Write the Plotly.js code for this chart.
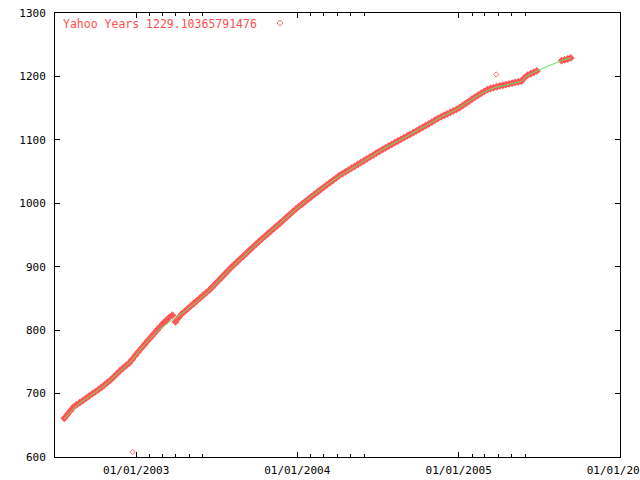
<!DOCTYPE html>
<html>
<head>
<meta charset="utf-8">
<script src="https://cdn.plot.ly/plotly-3.0.1.min.js"></script>
<style>html,body{margin:0;padding:0;background:#fff}#chart{width:640px;height:480px}</style>
</head>
<body>
<div id="chart"></div>
<script>
// Red point series (Yahoo Years)
const yahooDates = [
  "2002-07-22","2002-07-29","2002-08-05","2002-08-12","2002-08-19","2002-08-26","2002-09-02","2002-09-09","2002-09-16","2002-09-23","2002-09-30",
  "2002-10-07","2002-10-14","2002-10-21","2002-10-28","2002-11-04","2002-11-11","2002-11-18","2002-11-25","2002-12-02","2002-12-09","2002-12-16","2002-12-23","2002-12-30",
  "2003-01-06","2003-01-13","2003-01-20","2003-01-27","2003-02-03","2003-02-10","2003-02-17","2003-02-24","2003-03-03","2003-03-10","2003-03-17","2003-03-24","2003-03-31",
  "2003-04-07","2003-04-14","2003-04-21","2003-04-28","2003-05-05","2003-05-12","2003-05-19","2003-05-26","2003-06-02","2003-06-09","2003-06-16","2003-06-23","2003-06-30",
  "2003-07-07","2003-07-14","2003-07-21","2003-07-28","2003-08-04","2003-08-11","2003-08-18","2003-08-25","2003-09-01","2003-09-08","2003-09-15","2003-09-22","2003-09-29",
  "2003-10-06","2003-10-13","2003-10-20","2003-10-27","2003-11-03","2003-11-10","2003-11-17","2003-11-24","2003-12-01","2003-12-08","2003-12-15","2003-12-22","2003-12-29",
  "2004-01-05","2004-01-12","2004-01-19","2004-01-26","2004-02-02","2004-02-09","2004-02-16","2004-02-23","2004-03-01","2004-03-08","2004-03-15","2004-03-22","2004-03-29",
  "2004-04-05","2004-04-12","2004-04-19","2004-04-26","2004-05-03","2004-05-10","2004-05-17","2004-05-24","2004-05-31","2004-06-07","2004-06-14","2004-06-21","2004-06-28",
  "2004-07-05","2004-07-12","2004-07-19","2004-07-26","2004-08-02","2004-08-09","2004-08-16","2004-08-23","2004-08-30","2004-09-06","2004-09-13","2004-09-20","2004-09-27",
  "2004-10-04","2004-10-11","2004-10-18","2004-10-25","2004-11-01","2004-11-08","2004-11-15","2004-11-22","2004-11-29","2004-12-06","2004-12-13","2004-12-20","2004-12-27",
  "2005-01-03","2005-01-10","2005-01-17","2005-01-24","2005-01-31","2005-02-07","2005-02-14","2005-02-21","2005-02-28","2005-03-07","2005-03-14","2005-03-21","2005-03-28",
  "2005-04-04","2005-04-11","2005-04-18","2005-04-25","2005-05-02","2005-05-09","2005-05-16","2005-05-23","2005-05-30","2005-06-06","2005-06-13","2005-06-20","2005-06-27",
  "2005-08-22","2005-08-29","2005-09-05","2005-09-12"
];
const yahooYears = [
  661, 667, 673, 679, 682.5, 685.7, 689, 692.5, 696, 699.4, 702.8,
  706.1, 709.6, 713.5, 717.5, 721.5, 726.2, 731, 735.7, 740, 744.1, 748.2, 753.7, 760.2,
  766.1, 771.8, 777.4, 783.1, 788.8, 794.3, 799.8, 805.3, 810.7, 815.5, 820.2, 823.5, 813,
  819.5, 825.3, 829.6, 833.9, 838.2, 842.4, 846.6, 850.8, 855, 859.2, 863.4, 868.3, 873.4,
  878.4, 883.4, 888.5, 893.5, 898.6, 903.3, 907.8, 912.4, 916.9, 921.5, 926, 930.6, 935.1,
  939.7, 944, 948.2, 952.4, 956.6, 960.8, 965, 969.3, 973.6, 978, 982.4, 986.8, 991.1,
  995.2, 998.9, 1002.7, 1006.5, 1010.3, 1014.1, 1017.8, 1021.6, 1025.2, 1028.9, 1032.5, 1036.2, 1039.8,
  1043.5, 1046.5, 1049.4, 1052.4, 1055.3, 1058.3, 1061.2, 1064.2, 1067.1, 1070.1, 1073.1, 1076, 1079,
  1081.9, 1084.6, 1087.3, 1090.1, 1092.8, 1095.5, 1098.2, 1100.9, 1103.5, 1106.2, 1108.8, 1111.5, 1114.1,
  1116.8, 1119.6, 1122.5, 1125.3, 1128.1, 1131, 1133.8, 1136.3, 1138.6, 1141, 1143.3, 1145.7, 1148,
  1150.9, 1154.1, 1157.4, 1160.7, 1164, 1167.3, 1170.5, 1173.5, 1176.3, 1179.2, 1181, 1182.3, 1183.7,
  1185, 1186.1, 1187.2, 1188.3, 1189.4, 1190.5, 1191.6, 1192.6, 1198, 1201.9, 1204.2, 1206.5, 1208.7,
  1224.8, 1226.1, 1227.5, 1229.10365791476
];
// Isolated red points
const outlierDates = ["2002-12-24", "2005-03-27"];
const outlierYears = [608, 1203];

// Green line
const lineDates = [
  "2002-07-22","2002-08-22","2002-09-22","2002-10-22","2002-11-22","2002-12-22",
  "2003-01-22","2003-02-22","2003-03-22","2003-04-22","2003-05-22","2003-06-22","2003-07-22","2003-08-22","2003-09-22","2003-10-22","2003-11-22","2003-12-22",
  "2004-01-22","2004-02-22","2004-03-22","2004-04-22","2004-05-22","2004-06-22","2004-07-22","2004-08-22","2004-09-22","2004-10-22","2004-11-22","2004-12-22",
  "2005-01-22","2005-02-22","2005-03-22","2005-04-22","2005-05-22","2005-06-05","2005-06-28","2005-08-22","2005-09-12"
];
const lineYears = [
  660, 683, 698, 713, 733, 752,
  779, 801, 815, 830, 847, 866, 889, 910, 930, 949, 968, 987,
  1005, 1021, 1036, 1050, 1063, 1076, 1089, 1100, 1112, 1124, 1136, 1146,
  1160, 1173.5, 1182, 1187, 1192, 1201, 1209, 1225, 1229
];

const xTickVals = ["2003-01-01","2004-01-01","2005-01-01","2006-01-01"];
const xTickText = ["01/01/2003","01/01/2004","01/01/2005","01/01/2006"];
const xMinorVals = [
  "2003-02-01","2003-03-01","2003-04-01","2003-05-01","2003-06-01",
  "2004-02-01","2004-03-01","2004-04-01","2004-05-01","2004-06-01",
  "2005-02-01","2005-03-01","2005-04-01","2005-05-01","2005-06-01"
];
const keyLabel = "Yahoo Years " + yahooYears[yahooYears.length - 1];

const red = "#ff5656";
const green = "#5ee85e";
const mono = "DejaVu Sans Mono, monospace";

const traces = [
  {x: yahooDates, y: yahooYears, type: "scatter", mode: "markers", showlegend: false,
   marker: {symbol: "diamond", size: 6, color: red, line: {width: 0}}, hoverinfo: "skip"},
  {x: outlierDates, y: outlierYears, type: "scatter", mode: "markers", showlegend: false,
   marker: {symbol: "diamond-open", size: 4, color: "#ff6a6a", line: {width: 1, color: "#ff6a6a"}}, hoverinfo: "skip"},
  {x: lineDates, y: lineYears, type: "scatter", mode: "lines", showlegend: false,
   line: {color: green, width: 1}, hoverinfo: "skip"}
];

const kx = 0.3982, ky = 0.9775, dx = 0.0053, dy = 0.0068;
const layout = {
  width: 640, height: 480,
  margin: {l: 55, r: 20, t: 13, b: 23, pad: 0},
  paper_bgcolor: "#ffffff", plot_bgcolor: "#ffffff",
  showlegend: false,
  font: {family: mono, size: 11, color: "#000"},
  xaxis: {
    type: "date", range: ["2002-07-01", "2006-01-01 12:00"],
    tickmode: "array", tickvals: xTickVals, ticktext: xTickText,
    ticks: "inside", ticklen: 5, tickwidth: 1, tickcolor: "#000",
    showline: true, linecolor: "#000", linewidth: 1, mirror: "ticks",
    showgrid: false, zeroline: false, ticklabelstandoff: 3, ticklabeloverflow: "allow",
    tickfont: {family: mono, size: 11, color: "#000"},
    minor: {tickmode: "array", tickvals: xMinorVals, ticks: "inside", ticklen: 3, tickcolor: "#000", showgrid: false}
  },
  yaxis: {
    range: [600, 1300], tickmode: "linear", tick0: 600, dtick: 100,
    ticks: "inside", ticklen: 5, tickwidth: 1, tickcolor: "#000",
    showline: true, linecolor: "#000", linewidth: 1, mirror: "ticks",
    showgrid: false, zeroline: false, ticklabelstandoff: 6,
    tickfont: {family: mono, size: 11, color: "#000"}
  },
  annotations: [{
    xref: "paper", yref: "paper", x: 0.0106, y: 0.975, xanchor: "left", yanchor: "middle",
    text: keyLabel, showarrow: false, font: {family: mono, size: 11.5, color: "#ff4f4f"}
  }],
  shapes: [{
    type: "path", xref: "paper", yref: "paper",
    path: `M ${kx-dx},${ky} L ${kx},${ky+dy} L ${kx+dx},${ky} L ${kx},${ky-dy} Z`,
    line: {color: "#ff7070", width: 1}
  }]
};

Plotly.newPlot("chart", traces, layout, {staticPlot: true, displayModeBar: false});
</script>
</body>
</html>
